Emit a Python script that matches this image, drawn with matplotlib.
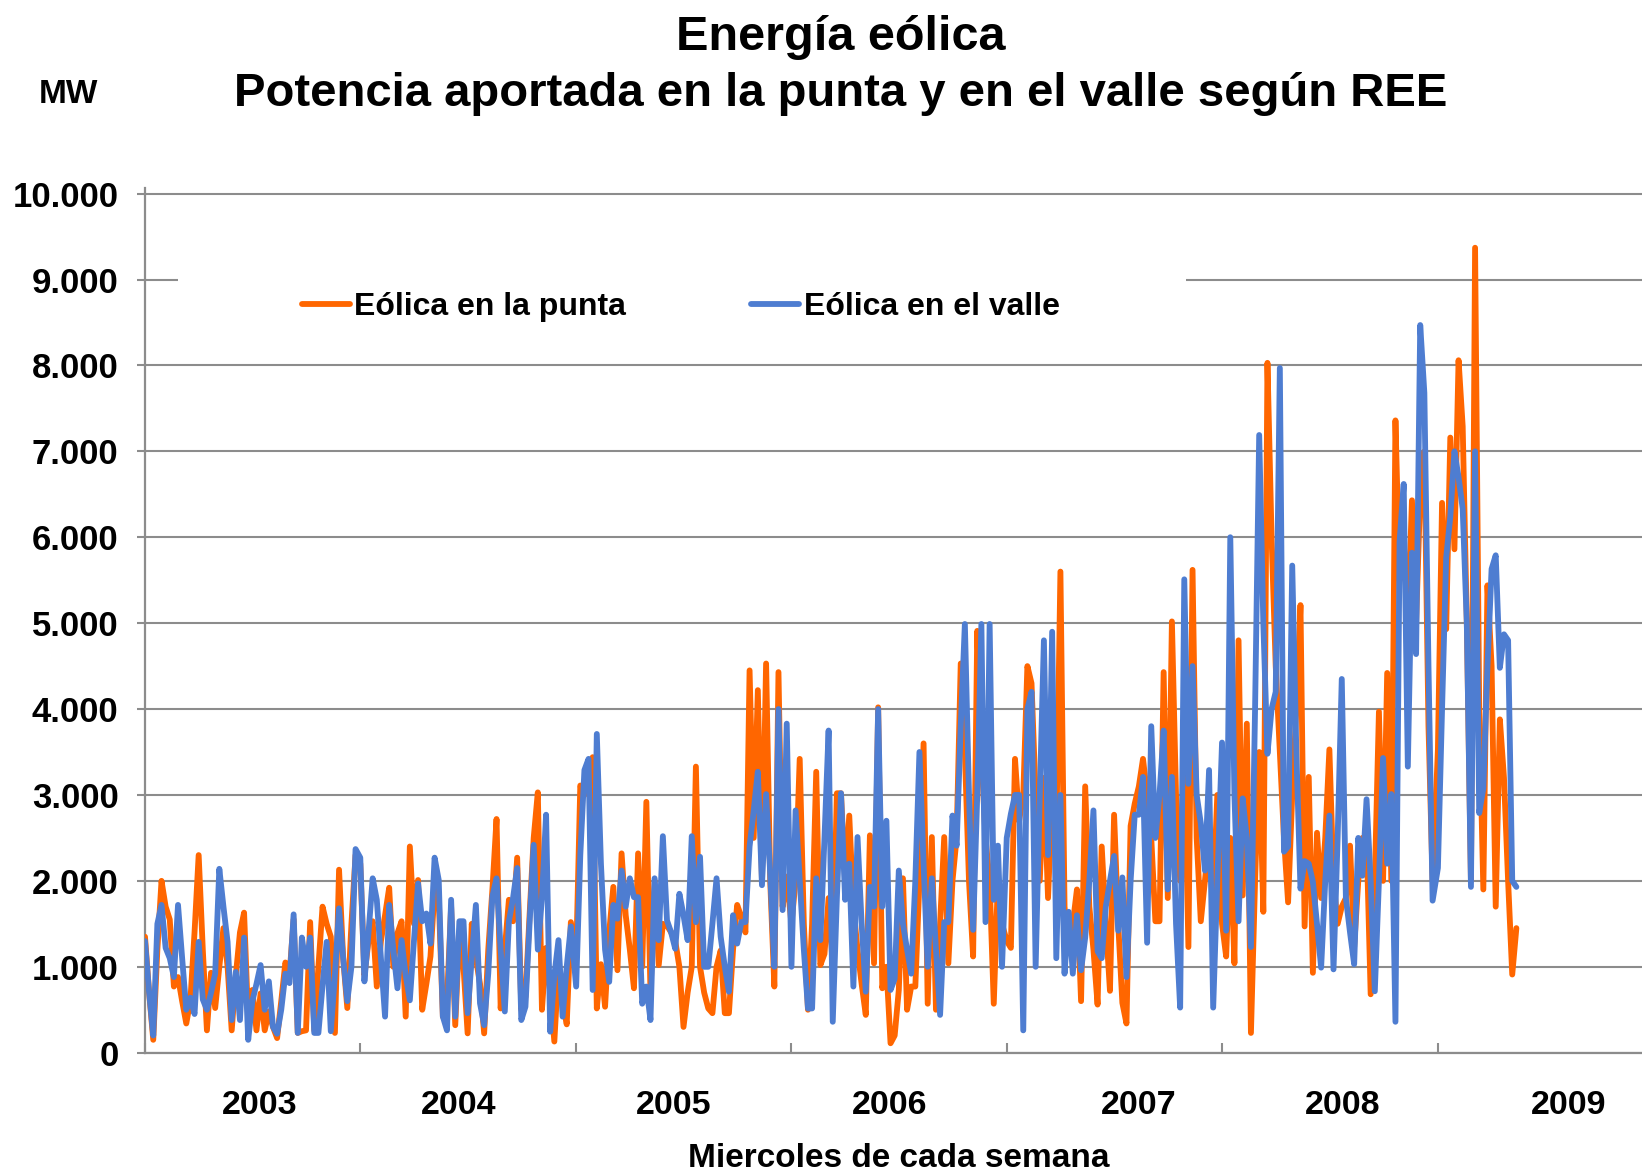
import numpy as np
import pandas as pd
import matplotlib
matplotlib.use("Agg")
import matplotlib.pyplot as plt
from matplotlib.ticker import FuncFormatter
from matplotlib.patches import Rectangle

plt.rcParams['font.family'] = ['Liberation Sans', 'DejaVu Sans']
plt.rcParams['font.weight'] = 'bold'

# ---------------- data (MW, weekly, Wednesdays) ----------------
years = [2003, 2004, 2005, 2006, 2007, 2008, 2009]

punta_2003 = [1350, 700, 150, 1200, 2000, 1700, 1550, 770, 880, 600, 340, 610, 1400, 2300, 1200, 260,
              930, 520, 1000, 1450, 1000, 260, 900, 1400, 1630, 380, 730, 260, 690, 260, 480, 300,
              170, 600, 1050, 900, 1550, 230, 250, 260, 1520, 260, 1000, 1700, 1500, 1350, 230, 2130,
              1100, 520, 1500, 2300]
punta_2004 = [2200, 900, 1300, 1530, 770, 1300, 1600, 1920, 1000, 1390, 1530, 420, 2400, 1500, 2010, 500,
              800, 1120, 1900, 1800, 420, 600, 1700, 320, 1400, 1000, 225, 1500, 1100, 800, 225, 1200,
              1900, 2720, 515, 1200, 1780, 1530, 2270, 500, 650, 1600, 2500, 3030, 500, 1220, 700, 130,
              1000, 600, 330, 1520]
punta_2005 = [1100, 3110, 3000, 3300, 3440, 515, 1030, 535, 1400, 1930, 960, 2320, 1600, 1200, 750, 2320,
              1000, 2920, 700, 2000, 1020, 1500, 1480, 1400, 1300, 1000, 300, 700, 1000, 3330, 1000, 700,
              515, 460, 1000, 1190, 460, 460, 1200, 1720, 1580, 1400, 4450, 2500, 4220, 2000, 4530, 2000,
              770, 4430, 1700, 2050]
punta_2006 = [1500, 2000, 3420, 1500, 500, 1500, 3270, 1020, 1150, 1800, 1000, 3020, 3020, 2000, 2760, 1700,
              1200, 800, 440, 2530, 1040, 4020, 750, 1000, 110, 200, 730, 2030, 500, 770, 770, 2000,
              3600, 570, 2510, 500, 1500, 2510, 1040, 2000, 2500, 4530, 3500, 2000, 1120, 4910, 3500, 2500,
              2000, 570, 2000, 1500]
punta_2007 = [1300, 1220, 3420, 2700, 3000, 4500, 4300, 3000, 2000, 3200, 1800, 3000, 2500, 5600, 1700, 1200,
              1500, 1900, 600, 3100, 1700, 1200, 560, 2400, 1500, 720, 2770, 1500, 580, 340, 2640, 2900,
              3100, 3420, 3000, 2500, 1530, 1530, 4430, 1800, 5020, 3000, 2000, 3500, 1230, 5620, 2500, 1530,
              2000, 2500, 1800, 3000]
punta_2008 = [1500, 1120, 2500, 1040, 4800, 1830, 3830, 230, 2000, 3500, 1640, 8030, 6000, 4500, 3500, 2500,
              1750, 3000, 4000, 5210, 1470, 3210, 930, 2560, 1800, 2500, 3530, 2000, 1500, 1700, 1800, 2410,
              1230, 2000, 2500, 2500, 680, 2000, 3970, 2000, 4420, 2000, 7360, 5500, 5950, 5000, 6430, 5000,
              6500, 7000, 3800, 2000]
punta_2009 = [3530, 6400, 4930, 7160, 5860, 8060, 7290, 5000, 2000, 9370, 4000, 1900, 5440, 4500, 1700, 3880,
              3200, 2000, 910, 1450]

valle_2003 = [1300, 700, 200, 1500, 1720, 1220, 1100, 880, 1720, 1100, 500, 640, 450, 1290, 620, 500,
              700, 920, 2140, 1700, 1290, 380, 940, 380, 1340, 150, 600, 800, 1020, 500, 830, 300,
              220, 500, 920, 810, 1610, 230, 1340, 1000, 1340, 230, 230, 780, 1290, 250, 900, 1680,
              1100, 600, 1000, 2370]
valle_2004 = [2270, 830, 1400, 2030, 1780, 1100, 420, 1720, 1200, 750, 1310, 900, 610, 1300, 1970, 1530,
              1620, 1270, 2270, 2010, 420, 260, 1780, 420, 1530, 1530, 460, 1100, 1720, 575, 320, 925,
              1820, 2030, 1200, 480, 1530, 1800, 2150, 380, 535, 1500, 2420, 1200, 1800, 2770, 245, 900,
              1310, 420, 1000, 1470]
valle_2005 = [770, 2300, 3290, 3420, 730, 3710, 2200, 1200, 825, 1720, 1560, 2120, 1700, 2030, 1810, 1810,
              570, 770, 380, 2030, 1310, 2520, 1540, 1400, 1210, 1850, 1600, 1310, 2520, 1520, 2280, 1000,
              1000, 1500, 2030, 1350, 1000, 710, 1600, 1270, 1520, 1520, 2400, 2820, 3270, 1950, 3010, 2080,
              1000, 4000, 1660, 3830]
valle_2006 = [1000, 2820, 2000, 1200, 515, 515, 2030, 1310, 2500, 3750, 360, 1800, 3020, 1780, 2200, 770,
              2510, 1500, 710, 1930, 1700, 4000, 1700, 2700, 730, 860, 2120, 1500, 1200, 920, 2000, 3500,
              2200, 1000, 2030, 1200, 440, 1520, 1520, 2760, 2410, 3800, 4990, 3000, 1430, 3000, 4990, 1520,
              4990, 1780, 2410, 1000]
valle_2007 = [2500, 2780, 3000, 3000, 260, 4000, 4200, 1000, 3000, 4800, 2300, 4900, 1100, 3000, 920, 1640,
              920, 1600, 960, 1340, 2000, 2820, 1180, 1100, 1700, 2000, 2290, 1420, 2040, 880, 2000, 2770,
              2770, 3210, 1280, 3800, 2500, 3000, 3750, 1900, 3210, 1500, 525, 5510, 3130, 4500, 3000, 2670,
              2120, 3290, 525, 2000]
valle_2008 = [3610, 1420, 6000, 3000, 1530, 2960, 2500, 1230, 4000, 7190, 5000, 3480, 4000, 4200, 7970, 2340,
              2400, 5670, 3500, 1910, 2230, 2200, 1990, 1500, 990, 2000, 2760, 970, 2500, 4350, 1800, 1400,
              1030, 2500, 2060, 2950, 2000, 715, 2000, 3430, 2200, 3010, 360, 5950, 6620, 3330, 5820, 4640,
              8470, 7680, 4500, 1770]
valle_2009 = [2150, 4000, 5760, 6240, 7000, 6700, 6330, 5000, 1930, 7000, 2790, 3080, 4500, 5630, 5790, 4480,
              4870, 4800, 2000, 1930]

punta_by_year = [punta_2003, punta_2004, punta_2005, punta_2006, punta_2007, punta_2008, punta_2009]
valle_by_year = [valle_2003, valle_2004, valle_2005, valle_2006, valle_2007, valle_2008, valle_2009]

year_labels = ["2003", "2004", "2005", "2006", "2007", "2008", "2009"]
year_label_dates = ["2003-07-14", "2004-06-15", "2005-06-16", "2006-06-16",
                    "2007-08-12", "2008-07-23", "2009-08-10"]
y_ticks = [0, 1000, 2000, 3000, 4000, 5000, 6000, 7000, 8000, 9000, 10000]

title_1 = "Energía eólica"
title_2 = "Potencia aportada en la punta y en el valle según REE"
unit_label = "MW"
x_title = "Miercoles de cada semana"
name_punta = "Eólica en la punta"
name_valle = "Eólica en el valle"


def weekly_dates(year, n):
    return pd.Timestamp(f"{year}-01-01") + pd.to_timedelta(7 * np.arange(n), unit="D")


dates = pd.DatetimeIndex(np.concatenate([weekly_dates(y, len(v)) for y, v in zip(years, punta_by_year)]))
punta = np.concatenate(punta_by_year)
valle = np.concatenate(valle_by_year)

# ---------------- style ----------------
ORANGE = "#FF6600"
BLUE = "#4E7DD1"
GRID = "#8C8C8C"

fig = plt.figure(figsize=(16.42, 11.72), dpi=100)
ax = fig.add_axes([0.0883, 0.1018, 0.9117, 0.7374])

ax.plot(dates, punta, color=ORANGE, lw=4.2, solid_joinstyle="round", solid_capstyle="round",
        zorder=3, label=name_punta)
ax.plot(dates, valle, color=BLUE, lw=4.2, solid_joinstyle="round", solid_capstyle="round",
        zorder=4, label=name_valle)

ax.set_ylim(0, 10060)
ax.set_xlim(pd.Timestamp("2003-01-01"), pd.Timestamp("2009-12-13"))
ax.set_yticks(y_ticks)
ax.yaxis.set_major_formatter(FuncFormatter(lambda v, p: f"{int(v):,}".replace(",", ".")))
ax.set_xticks([pd.Timestamp(f"{y}-01-01") for y in years])
ax.set_xticklabels([])

ax.grid(axis="y", color=GRID, lw=1.5)
ax.set_axisbelow(True)
for s in ["top", "right"]:
    ax.spines[s].set_visible(False)
for s in ["left", "bottom"]:
    ax.spines[s].set_color(GRID)
    ax.spines[s].set_linewidth(1.6)

ax.tick_params(axis="y", direction="out", length=6, width=1.5, color=GRID,
               labelsize=25, pad=13)
ax.tick_params(axis="x", direction="in", length=7, width=1.5, color=GRID)
for lab in ax.get_yticklabels():
    lab.set_fontweight("bold")

# year labels
for lab, d in zip(year_labels, year_label_dates):
    ax.text(pd.Timestamp(d), -0.071, lab, transform=ax.get_xaxis_transform(),
            ha="center", va="baseline", fontsize=24.5, fontweight="bold")

# white box hiding the 9.000 gridline behind the legend
ax.add_patch(Rectangle((0.1084, 0.738), 0.6139, 0.045, transform=fig.transFigure,
                       facecolor="white", edgecolor="none", zorder=1))

leg = ax.legend(loc="center left", bbox_to_anchor=(0.1837, 0.7383), bbox_transform=fig.transFigure,
                ncol=2, frameon=False, fontsize=23, handlelength=1.5, handletextpad=0.15,
                columnspacing=3.9, borderpad=0, borderaxespad=0)
for t in leg.get_texts():
    t.set_fontweight("bold")
for h in leg.get_lines():
    h.set_linewidth(4.2)

fig.text(0.512, 0.9571, title_1, ha="center", va="baseline", fontsize=35, fontweight="bold")
fig.text(0.512, 0.9097, title_2, ha="center", va="baseline", fontsize=34, fontweight="bold")
fig.text(0.0414, 0.9125, unit_label, ha="center", va="baseline", fontsize=24, fontweight="bold")
fig.text(0.5475, 0.004, x_title, ha="center", va="baseline", fontsize=24, fontweight="bold")

fig.savefig("out.png", dpi=100)
